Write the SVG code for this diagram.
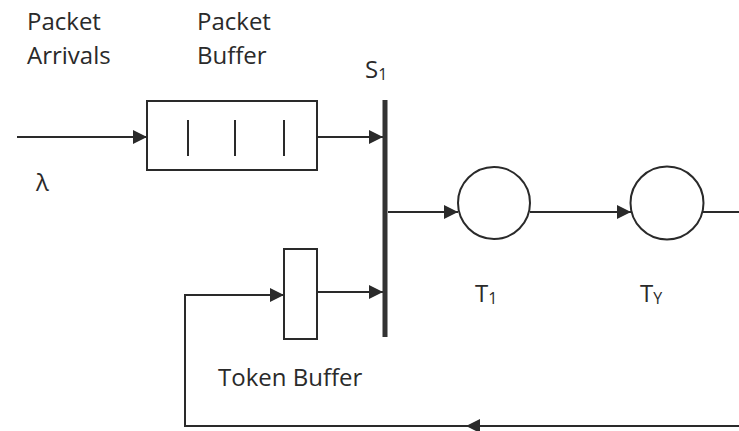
<svg xmlns="http://www.w3.org/2000/svg" width="739" height="431" viewBox="0 0 739 431">
<style>
.ln{fill:none;stroke:#2a2a2a;stroke-width:2}
.nd{fill:#fff;stroke:#2a2a2a;stroke-width:2}
.lb{font-family:"Open Sans","DejaVu Sans",sans-serif;font-size:24px;fill:#2a2a2a}
.sub{font-size:16px}
</style>
<defs>
<marker id="ah" viewBox="0 0 14 14" refX="14" refY="7" markerWidth="14" markerHeight="14" markerUnits="userSpaceOnUse" orient="auto">
<path d="M0,0 L14,7 L0,14 Z" fill="#2a2a2a"/>
</marker>
</defs>
<rect width="739" height="431" fill="#fff"/>
<g id="labels">
<text class="lb" x="27" y="30">Packet</text>
<text class="lb" x="27" y="64">Arrivals</text>
<text class="lb" x="197" y="30">Packet</text>
<text class="lb" x="197" y="64">Buffer</text>
<text class="lb" x="36" y="191">λ</text>
<text class="lb" x="218" y="386">Token Buffer</text>
</g>
<g id="connectors">
<path class="ln" d="M17,137 H147" marker-end="url(#ah)"/>
<path class="ln" d="M317,137 H383" marker-end="url(#ah)"/>
<path class="ln" d="M388,212 H458" marker-end="url(#ah)"/>
<path class="ln" d="M530,212 H631" marker-end="url(#ah)"/>
<path class="ln" d="M703,212 H739"/>
<path class="ln" d="M739,426 H466" marker-end="url(#ah)"/>
<path class="ln" d="M466,426 H185 V295 H284" marker-end="url(#ah)"/>
<path class="ln" d="M317,292 H383" marker-end="url(#ah)"/>
</g>
<g id="packet-buffer">
<rect class="nd" x="147" y="101" width="170" height="69"/>
<path class="ln" d="M188,120 V156 M235,120 V156 M284,120 V156"/>
</g>
<g id="s1">
<rect x="382.5" y="100" width="5" height="237" fill="#333"/>
<text class="lb" x="365" y="78">S<tspan class="sub" dy="2">1</tspan></text>
</g>
<g id="t1">
<circle class="nd" cx="494" cy="203" r="36"/>
<text class="lb" x="475" y="302">T<tspan class="sub" dy="2">1</tspan></text>
</g>
<g id="ty">
<circle class="nd" cx="667" cy="203" r="36.5"/>
<text class="lb" x="640" y="302">T<tspan class="sub" dy="2">Y</tspan></text>
</g>
<g id="token-buffer">
<rect class="nd" x="284" y="249" width="33" height="90"/>
</g>
</svg>
